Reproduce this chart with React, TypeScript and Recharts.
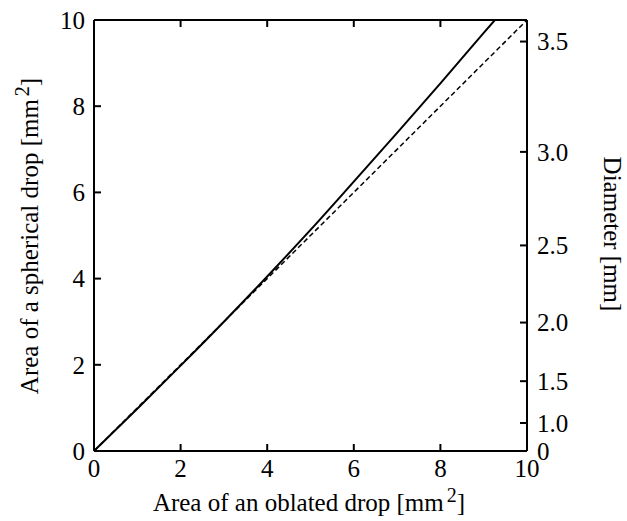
import { LineChart, Line, XAxis, YAxis, Label } from 'recharts';

// values
const oblatedArea = [0, 1, 2, 3, 4, 5, 6, 7, 8, 9, 9.26];
const sphericalArea = [0, 0.98, 1.98, 3.0, 4.05, 5.13, 6.25, 7.38, 8.53, 9.7, 10];
const refX = [0, 10];
const refY = [0, 10];

const areaTicks = [0, 2, 4, 6, 8, 10];
const topTicks = [2, 4, 6, 8];
const diameterLabels = ['0', '1.0', '1.5', '2.0', '2.5', '3.0', '3.5'];
const diameterAreas = [0, 0.65, 1.62, 2.98, 4.77, 6.94, 9.5];

const solidData = oblatedArea.map((x, i) => ({ x, y: sphericalArea[i] }));
const dashedData = refX.map((x, i) => ({ x, y: refY[i] }));

const FONT = '"Liberation Serif", "Times New Roman", serif';
// tiny non-zero sizes so the custom ticks get the axis position itself
const TS = 0.01;

const LeftTick = ({ x, y, payload }: any) => (
  <g>
    <line x1={x} x2={x + 7} y1={y} y2={y} stroke="#000" strokeWidth={2} />
    <text x={x - 9} y={y} dy="0.35em" textAnchor="end" fontFamily={FONT} fontSize={25} fill="#000">
      {payload.value}
    </text>
  </g>
);

const RightTick = ({ x, y, payload }: any) => {
  const i = diameterAreas.indexOf(payload.value);
  return (
    <g>
      <line x1={x - 7} x2={x} y1={y} y2={y} stroke="#000" strokeWidth={2} />
      <text x={x + 10} y={y} dy="0.35em" textAnchor="start" fontFamily={FONT} fontSize={25} fill="#000">
        {diameterLabels[i]}
      </text>
    </g>
  );
};

const BottomTick = ({ x, y, payload }: any) => (
  <g>
    <line x1={x} x2={x} y1={y} y2={y - 7} stroke="#000" strokeWidth={2} />
    <text x={x} y={y + 8} dy="0.71em" textAnchor="middle" fontFamily={FONT} fontSize={25} fill="#000">
      {payload.value}
    </text>
  </g>
);

const TopTick = ({ x, y }: any) => (
  <line x1={x} x2={x} y1={y} y2={y + 7} stroke="#000" strokeWidth={2} />
);

const XTitle = () => (
  <text x={309} y={511} textAnchor="middle" fontFamily={FONT} fontSize={25} fill="#000">
    Area of an oblated drop [mm
    <tspan dx={3} dy={-9} fontSize={20}>2</tspan>
    <tspan dy={9}>]</tspan>
  </text>
);

const YTitle = () => (
  <text
    x={0}
    y={0}
    transform="translate(38,236) rotate(-90)"
    textAnchor="middle"
    fontFamily={FONT}
    fontSize={25}
    fill="#000"
  >
    Area of a spherical drop [mm
    <tspan dx={3} dy={-9} fontSize={20}>2</tspan>
    <tspan dy={9}>]</tspan>
  </text>
);

const RightTitle = () => (
  <text
    x={0}
    y={0}
    transform="translate(604,234) rotate(90)"
    textAnchor="middle"
    fontFamily={FONT}
    fontSize={25}
    fill="#000"
  >
    Diameter [mm]
  </text>
);

const App = () => {
  return (
    <div style={{ position: 'absolute', left: 0, top: 0 }}>
      <LineChart width={627} height={521} margin={{ top: 19, right: 0, bottom: 0, left: 0 }}>
        <XAxis
          xAxisId="bottom"
          dataKey="x"
          type="number"
          domain={[0, 10]}
          ticks={areaTicks}
          height={70}
          tickSize={TS}
          tickMargin={TS}
          tickLine={false}
          axisLine={{ stroke: '#000', strokeWidth: 2 }}
          tick={<BottomTick />}
          allowDataOverflow
        >
          <Label content={<XTitle />} />
        </XAxis>
        <XAxis
          xAxisId="top"
          orientation="top"
          dataKey="x"
          type="number"
          domain={[0, 10]}
          ticks={topTicks}
          height={1}
          tickSize={TS}
          tickMargin={TS}
          tickLine={false}
          axisLine={{ stroke: '#000', strokeWidth: 2 }}
          tick={<TopTick />}
          allowDataOverflow
        />
        <YAxis
          yAxisId="left"
          type="number"
          domain={[0, 10]}
          ticks={areaTicks}
          width={94}
          tickSize={TS}
          tickMargin={TS}
          tickLine={false}
          axisLine={{ stroke: '#000', strokeWidth: 2 }}
          tick={<LeftTick />}
          allowDataOverflow
        >
          <Label content={<YTitle />} />
        </YAxis>
        <YAxis
          yAxisId="right"
          orientation="right"
          type="number"
          domain={[0, 10]}
          ticks={diameterAreas}
          interval={0}
          width={100}
          tickSize={TS}
          tickMargin={TS}
          tickLine={false}
          axisLine={{ stroke: '#000', strokeWidth: 2 }}
          tick={<RightTick />}
          allowDataOverflow
        >
          <Label content={<RightTitle />} />
        </YAxis>
        <Line
          xAxisId="bottom"
          yAxisId="left"
          data={dashedData}
          dataKey="y"
          type="linear"
          stroke="#000"
          strokeWidth={1.5}
          strokeDasharray="5 3"
          dot={false}
          isAnimationActive={false}
        />
        <Line
          xAxisId="top"
          yAxisId="right"
          data={solidData}
          dataKey="y"
          type="monotone"
          stroke="#000"
          strokeWidth={2}
          dot={false}
          isAnimationActive={false}
        />
      </LineChart>
    </div>
  );
};

export default App;
